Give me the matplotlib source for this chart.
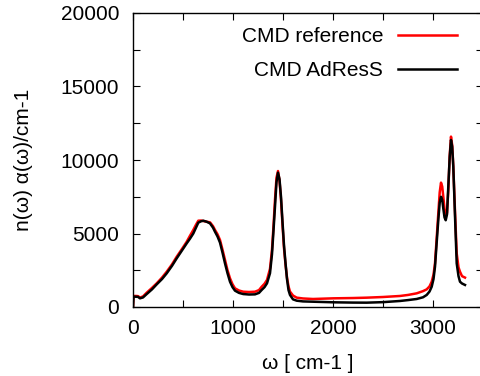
import matplotlib
matplotlib.use('Agg')
import matplotlib.pyplot as plt
from matplotlib.ticker import MultipleLocator

plt.rcParams['font.family'] = ['Liberation Sans', 'DejaVu Sans']

# wavenumber grid (cm-1) and spectra
w = [0, 5, 30, 50, 70, 100, 137, 190, 237, 290, 337, 390, 437, 490, 537, 570, 603, 630,
     653, 680, 703, 737, 770, 800, 820, 845, 870, 895, 920, 945, 970, 995, 1020, 1060,
     1103, 1160, 1220, 1260, 1287, 1315, 1340, 1370, 1390, 1405, 1420, 1435, 1450, 1465,
     1480, 1495, 1510, 1525, 1540, 1555, 1570, 1600, 1637, 1700, 1800, 2003, 2200, 2337,
     2500, 2670, 2750, 2837, 2900, 2937, 2965, 2987, 3005, 3020, 3035, 3053, 3067, 3080,
     3092, 3103, 3115, 3127, 3140, 3153, 3167, 3180, 3192, 3203, 3220, 3237, 3255, 3270,
     3290, 3320]

cmd_reference = [0, 750, 750, 740, 640, 720, 975, 1300, 1610, 2000, 2400, 2900, 3420, 3950,
                 4440, 4850, 5240, 5600, 5870, 5880, 5850, 5800, 5760, 5500, 5240, 4950,
                 4560, 3900, 3200, 2500, 1950, 1550, 1270, 1120, 1040, 1020, 1040, 1150,
                 1380, 1580, 1840, 2600, 3900, 5500, 7300, 8800, 9250, 8600, 7300, 5600,
                 4000, 2900, 2000, 1400, 1050, 780, 635, 580, 545, 590, 610, 635, 680, 750,
                 820, 930, 1080, 1200, 1400, 1720, 2200, 2970, 4500, 6370, 7800, 8460,
                 8200, 7500, 6700, 6150, 6400, 7960, 10300, 11590, 11000, 9550, 6500, 3650,
                 2700, 2400, 2100, 2000]

cmd_adress = [0, 700, 700, 690, 590, 650, 880, 1200, 1540, 1900, 2290, 2800, 3310, 3850,
              4330, 4650, 5000, 5400, 5740, 5830, 5870, 5800, 5690, 5400, 5120, 4800,
              4380, 3700, 2970, 2300, 1720, 1350, 1110, 960, 880, 850, 860, 960, 1160,
              1350, 1610, 2300, 3600, 5200, 6830, 8500, 9140, 8700, 7500, 5800, 4200,
              3000, 1900, 1150, 820, 520, 430, 380, 360, 320, 300, 295, 330, 410, 470,
              545, 660, 820, 1050, 1380, 1900, 2740, 4200, 5920, 7100, 7500, 7300, 6700,
              6100, 5900, 6300, 8190, 10200, 11360, 10900, 9550, 6200, 2970, 2100, 1720,
              1600, 1500]

x_ticks = [0, 1000, 2000, 3000]
y_ticks = [0, 5000, 10000, 15000, 20000]

fig = plt.figure(figsize=(4.81, 3.76), dpi=100)
ax = fig.add_axes([133 / 481, 1 - 307 / 376, 350 / 481, 294 / 376])

ax.plot(w, cmd_reference, color='#ff0000', lw=1.8, label='CMD reference')
ax.plot(w, cmd_adress, color='black', lw=1.8, label='CMD AdResS')

ax.set_xlim(0, 3500)
ax.set_ylim(0, 20000)
ax.set_xticks(x_ticks)
ax.set_yticks(y_ticks)
ax.xaxis.set_minor_locator(MultipleLocator(500))
ax.yaxis.set_minor_locator(MultipleLocator(2500))
ax.tick_params(which='both', direction='in', top=True, right=True, length=5, width=0.8)
ax.tick_params(axis='x', labelsize=15, pad=9)
ax.tick_params(axis='y', labelsize=15, pad=10)
for s in ax.spines.values():
    s.set_linewidth(1.0)

ax.set_xlabel('ω [ cm-1 ]', fontsize=15, labelpad=11)
ax.set_ylabel('n(ω) α(ω)/cm-1', fontsize=15, labelpad=20)

ax.legend(loc='upper right', bbox_to_anchor=(0.926, 0.951), frameon=False, fontsize=15,
          markerfirst=False, handlelength=2.85, handletextpad=0.7, labelspacing=0.7,
          borderpad=0, borderaxespad=0)

fig.savefig('out.png', dpi=100)
